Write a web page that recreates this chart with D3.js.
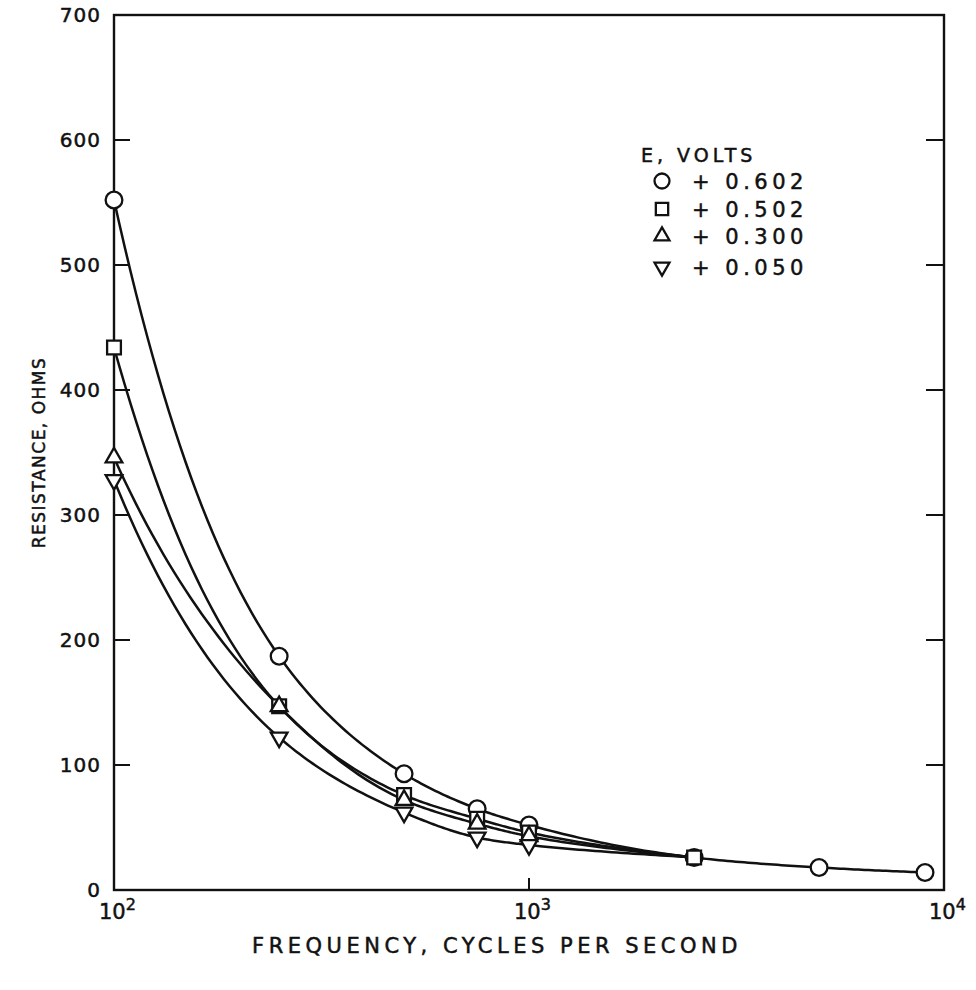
<!DOCTYPE html>
<html>
<head>
<meta charset="utf-8">
<script src="https://cdn.jsdelivr.net/npm/d3@7"></script>
<style>
  body { margin: 0; background: #fff; }
  text { font-family: "DejaVu Sans", sans-serif; fill: #111; stroke: #111; stroke-width: 0.5px; }
</style>
</head>
<body>
<div id="chart"></div>
<script>
// frequencies (cycles per second) and resistance (ohms)
var freqCircle = [100, 250, 500, 750, 1000, 2500, 5000, 9000]
var resCircle = [552, 187, 93, 65, 52, 26, 18, 14]
var freqSquare = [100, 250, 500, 750, 1000, 2500]
var resSquare = [434, 147, 76, 57, 46, 26]
var freqTri = [100, 250, 500, 750, 1000]
var resTri = [346, 147, 72, 53, 43]
var freqInv = [100, 250, 500, 750, 1000]
var resInv = [328, 122, 62, 42, 36]

var legendLabels = ["+ 0.602", "+ 0.502", "+ 0.300", "+ 0.050"]
var yTicks = [0, 100, 200, 300, 400, 500, 600, 700]
var xTicks = [100, 1000, 10000]
var xTickExp = ["2", "3", "4"]

var W = 976, H = 990
var plotLeft = 114, plotRight = 944, plotTop = 15, plotBottom = 890

var svg = d3.select("#chart").append("svg")
	.attr("width", W)
	.attr("height", H)

var x = d3.scaleLog().domain([100, 10000]).range([plotLeft, plotRight])
var y = d3.scaleLinear().domain([0, 700]).range([plotBottom, plotTop])

// frame
svg.append("rect")
	.attr("x", plotLeft).attr("y", plotTop)
	.attr("width", plotRight - plotLeft).attr("height", plotBottom - plotTop)
	.style("fill", "none")
	.style("stroke", "#111")
	.style("stroke-width", 2.4)

// inward ticks on both vertical sides
yTicks.filter(function(d) { return d > 0 && d < 700 }).forEach(function(d) {
	svg.append("line")
		.attr("x1", plotLeft).attr("x2", plotLeft + 16)
		.attr("y1", y(d)).attr("y2", y(d))
		.style("stroke", "#111").style("stroke-width", 2)
	svg.append("line")
		.attr("x1", plotRight - 18).attr("x2", plotRight)
		.attr("y1", y(d)).attr("y2", y(d))
		.style("stroke", "#111").style("stroke-width", 2)
})

// small tick at 10^3
svg.append("line")
	.attr("x1", x(1000)).attr("x2", x(1000))
	.attr("y1", plotBottom).attr("y2", plotBottom - 12)
	.style("stroke", "#111").style("stroke-width", 2)

// y tick labels
svg.selectAll(".ylab")
	.data(yTicks)
	.enter().append("text")
	.attr("class", "ylab")
	.attr("x", plotLeft - 13)
	.attr("y", function(d) { return y(d) + 7 })
	.attr("text-anchor", "end")
	.style("font-size", "20px")
	.style("letter-spacing", "1px")
	.text(function(d) { return d })

// x tick labels, 10 with a superscript exponent
xTicks.forEach(function(d, i) {
	var t = svg.append("text")
		.attr("x", x(d) - 15)
		.attr("y", plotBottom + 29)
		.style("font-size", "21px")
	t.append("tspan").text("10")
	t.append("tspan")
		.attr("dy", -9)
		.style("font-size", "16px")
		.text(xTickExp[i])
})

// axis titles
svg.append("text")
	.attr("x", 497)
	.attr("y", 953)
	.attr("text-anchor", "middle")
	.style("font-size", "21px")
	.style("letter-spacing", "4.5px")
	.text("FREQUENCY, CYCLES PER SECOND")

svg.append("text")
	.attr("transform", "translate(45," + y(350) + ") rotate(-90)")
	.attr("text-anchor", "middle")
	.style("font-size", "17px")
	.style("letter-spacing", "1.5px")
	.text("RESISTANCE, OHMS")

// the hand-drawn curves are smooth in log-log space, so the spline is
// built on (log f, log R) and then sent through the x / y scales
function smoothLogLog(pts, steps) {
	var u = pts.map(function(p) { return Math.log10(p[0]) })
	var v = pts.map(function(p) { return Math.log(p[1]) })
	var n = pts.length
	var sec = d3.range(n - 1).map(function(i) { return (v[i + 1] - v[i]) / (u[i + 1] - u[i]) })
	var m = d3.range(n).map(function(i) {
		if (i === 0) return sec[0]
		if (i === n - 1) return sec[n - 2]
		return (sec[i - 1] + sec[i]) / 2
	})
	var out = [pts[0]]
	for (var i = 0; i < n - 1; i++) {
		var h = u[i + 1] - u[i]
		for (var k = 1; k <= steps; k++) {
			var t = k / steps, t2 = t * t, t3 = t2 * t
			var vv = (2 * t3 - 3 * t2 + 1) * v[i] + (t3 - 2 * t2 + t) * h * m[i]
				+ (-2 * t3 + 3 * t2) * v[i + 1] + (t3 - t2) * h * m[i + 1]
			out.push([Math.pow(10, u[i] + t * h), Math.exp(vv)])
		}
	}
	return out
}

var line = d3.line()
	.x(function(d) { return x(d[0]) })
	.y(function(d) { return y(d[1]) })

var series = [
	{ f: freqCircle, r: resCircle, sym: d3.symbolCircle, size: 220, rot: 0 },
	{ f: freqSquare, r: resSquare, sym: d3.symbolSquare, size: 190, rot: 0 },
	{ f: freqTri, r: resTri, sym: d3.symbolTriangle, size: 120, rot: 0 },
	{ f: freqInv, r: resInv, sym: d3.symbolTriangle, size: 120, rot: 180 }
]

series.forEach(function(s) {
	var pts = d3.zip(s.f, s.r)
	// tail of the lower curves joins the circle curve at 2500
	if (s.f[s.f.length - 1] < 2500) pts.push([2500, 26])
	svg.append("path")
		.datum(smoothLogLog(pts, 30))
		.attr("d", line)
		.style("fill", "none")
		.style("stroke", "#111")
		.style("stroke-width", 2.5)
})

series.forEach(function(s) {
	var sym = d3.symbol().type(s.sym).size(s.size)
	svg.selectAll(null)
		.data(d3.zip(s.f, s.r))
		.enter().append("path")
		.attr("d", sym)
		.attr("transform", function(d) { return "translate(" + x(d[0]) + "," + y(d[1]) + ") rotate(" + s.rot + ")" })
		.style("fill", "#fff")
		.style("stroke", "#111")
		.style("stroke-width", 2.3)
})

// legend
var lgX = 662, lgY = 181
var lgRows = [0, 28, 55, 86]
svg.append("text")
	.attr("x", 641)
	.attr("y", lgY - 19)
	.style("font-size", "19px")
	.style("letter-spacing", "4px")
	.text("E, VOLTS")

series.forEach(function(s, i) {
	var yy = lgY + lgRows[i]
	svg.append("path")
		.attr("d", d3.symbol().type(s.sym).size(s.size * 0.8))
		.attr("transform", "translate(" + lgX + "," + yy + ") rotate(" + s.rot + ")")
		.style("fill", "#fff")
		.style("stroke", "#111")
		.style("stroke-width", 2.3)
	svg.append("text")
		.attr("x", 692)
		.attr("y", yy + 8)
		.style("font-size", "21px")
		.style("letter-spacing", "4.5px")
		.text(legendLabels[i])
})
</script>
</body>
</html>
